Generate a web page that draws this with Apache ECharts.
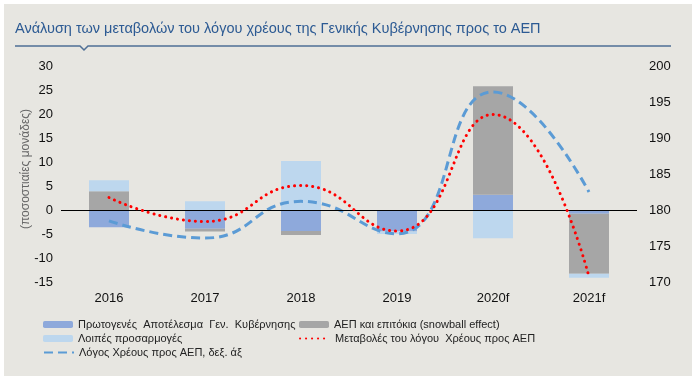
<!DOCTYPE html>
<html>
<head>
<meta charset="utf-8">
<script src="https://cdn.jsdelivr.net/npm/echarts@6/dist/echarts.min.js"></script>
<style>
html,body{margin:0;padding:0;background:#fff;}
#c{width:700px;height:383px;}
</style>
</head>
<body>
<div id="c"></div>
<script>
var categories = ['2016', '2017', '2018', '2019', '2020f', '2021f'];
var primaryBalance = [-3.6, -3.9, -4.4, -4.5, 3.2, -0.8];
var snowball = [3.9, -0.6, -0.8, 0, 22.6, -12.5];
var otherAdjust = [2.3, 1.8, 10.2, -0.5, -5.9, -0.8];
var debtChange = [2.6, -2.4, 5.1, -4.4, 19.9, -13.9];
var debtRatio = [178.5, 176.1, 181.2, 176.7, 196.4, 182.5];

var leftTicks = [-15, 30, 5];
var rightTicks = [170, 200, 5];

var names = [
  'Πρωτογενές  Αποτέλεσμα  Γεν.  Κυβέρνησης',
  'ΑΕΠ και επιτόκια (snowball effect)',
  'Λοιπές προσαρμογές',
  'Μεταβολές του λόγου  Χρέους προς ΑΕΠ',
  'Λόγος Χρέους προς ΑΕΠ, δεξ. άξ'
];

var chart = echarts.init(document.getElementById('c'), null, {renderer: 'canvas'});
var font = 'Liberation Sans, Arial, sans-serif';

function leg(name, left, top, h, isLine) {
  var o = {
    data: [name], left: left, top: top, padding: 0,
    itemWidth: 30, itemHeight: h, itemGap: 4, selectedMode: false,
    textStyle: {fontFamily: font, fontSize: 11, color: '#222'}
  };
  if (isLine) { o.itemStyle = {opacity: 0}; }
  return o;
}

var option = {
  backgroundColor: '#ffffff',
  animation: false,
  graphic: [
    {type: 'rect', shape: {x: 4, y: 4, width: 688, height: 372}, style: {fill: '#E7E6E1'}, z: -10},
    {type: 'polyline', shape: {points: [[15, 46], [80, 46], [84, 50], [88, 46], [671, 46]]},
      style: {stroke: '#4F6F95', lineWidth: 1.5, fill: null}, z: 10}
  ],
  title: {
    text: 'Ανάλυση των μεταβολών του λόγου χρέους της Γενικής Κυβέρνησης προς το ΑΕΠ',
    left: 15, top: 21, padding: 0,
    textStyle: {fontFamily: font, fontSize: 14.5, fontWeight: 'normal', color: '#2C5A93'}
  },
  legend: [
    leg(names[0], 43, 319, 7, false),
    leg(names[2], 43, 333, 7, false),
    leg(names[4], 43, 347, 7, true),
    leg(names[1], 299, 319, 7, false),
    leg(names[3], 299, 333, 7, true)
  ],
  grid: {left: 61, right: 63, top: 66, bottom: 101},
  xAxis: {
    type: 'category', data: categories,
    axisLine: {show: false}, axisTick: {show: false},
    axisLabel: {fontFamily: font, fontSize: 13, color: '#111', margin: 10}
  },
  yAxis: [
    {
      type: 'value', min: leftTicks[0], max: leftTicks[1], interval: leftTicks[2],
      name: '(ποσοστιαίες μονάδες)', nameLocation: 'middle', nameGap: 29, nameRotate: 90,
      nameMoveOverlap: false,
      nameTextStyle: {fontFamily: font, fontSize: 12, color: '#666', padding: [0, 0, 0, 10]},
      axisLine: {show: false}, axisTick: {show: false}, splitLine: {show: false},
      axisLabel: {fontFamily: font, fontSize: 13, color: '#111', margin: 8}
    },
    {
      type: 'value', min: rightTicks[0], max: rightTicks[1], interval: rightTicks[2],
      axisLine: {show: false}, axisTick: {show: false}, splitLine: {show: false},
      axisLabel: {fontFamily: font, fontSize: 13, color: '#111', margin: 12}
    }
  ],
  series: [
    {
      name: names[0], type: 'bar', stack: 'a', data: primaryBalance, barWidth: 40,
      itemStyle: {color: '#8EA9DB'},
      markLine: {
        silent: true, symbol: 'none', label: {show: false},
        lineStyle: {color: '#000', width: 1, type: 'solid'},
        data: [{yAxis: 0}]
      }
    },
    {name: names[1], type: 'bar', stack: 'a', data: snowball, barWidth: 40, itemStyle: {color: '#A6A6A6'}},
    {name: names[2], type: 'bar', stack: 'a', data: otherAdjust, barWidth: 40, itemStyle: {color: '#BDD7EE'}},
    {
      name: names[4], type: 'line', yAxisIndex: 1, data: debtRatio, smooth: 0.5,
      symbol: 'none', z: 4,
      itemStyle: {color: '#5B9BD5'},
      lineStyle: {color: '#5B9BD5', width: 3, type: [9, 5]}
    },
    {
      name: names[3], type: 'line', yAxisIndex: 0, data: debtChange, smooth: 0.5,
      symbol: 'none', z: 5,
      itemStyle: {color: '#FF0000'},
      lineStyle: {color: '#FF0000', width: 3, type: [0.1, 5.9], cap: 'round'}
    }
  ]
};
chart.setOption(option);
</script>
</body>
</html>
